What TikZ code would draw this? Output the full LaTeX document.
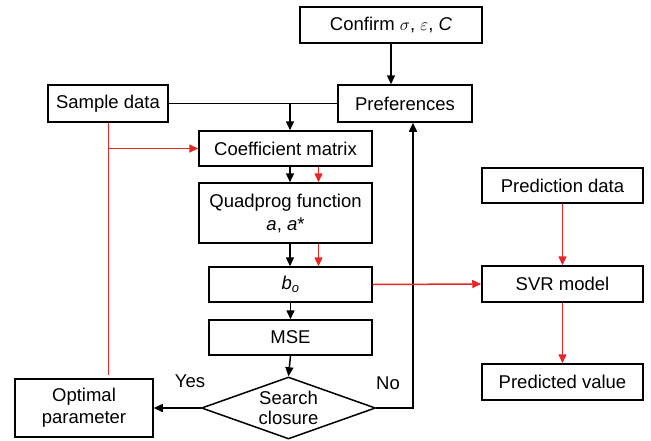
\documentclass[tikz,border=0pt]{standalone}
\usepackage{fontspec}
\setmainfont{Liberation Sans}
\usetikzlibrary{shapes.geometric,arrows.meta}
\definecolor{flowred}{RGB}{232,38,38}
\begin{document}
\begin{tikzpicture}[x=1pt,y=-1pt,
    font=\fontsize{18.5}{22}\selectfont,
    box/.style={draw,line width=1.5pt,inner sep=0pt,align=center},
    blk/.style={line width=1.5pt,-{Triangle[length=9pt,width=8pt]}},
    redarr/.style={flowred,line width=1.5pt,-{Triangle[length=9pt,width=8pt]}}]
  \useasboundingbox (0,0) rectangle (651,440);
  % left column
  \node[box,minimum width=182pt,minimum height=36pt] (confirm) at (391,25) {Confirm $\sigma$, $\varepsilon$, \textit{C}};
  \node[box,minimum width=134pt,minimum height=37pt] (pref) at (405,103.5) {Preferences};
  \node[box,minimum width=120pt,minimum height=37pt] (sample) at (108,103.5) {Sample data};
  \node[box,minimum width=173pt,minimum height=35pt] (coef) at (285.5,148.5) {Coefficient matrix};
  \node[box,minimum width=173pt,minimum height=60pt] (quad) at (285.5,213) {Quadprog function\\[1pt]\textit{a}, \textit{a}*};
  \node[box,minimum width=163pt,minimum height=35pt] (bo) at (290.5,284.5) {\textit{b}\textsubscript{\textit{o}}};
  \node[box,minimum width=163pt,minimum height=35pt] (mse) at (290.5,337.5) {MSE};
  \node[draw,line width=1.5pt,diamond,inner sep=0pt,minimum width=174pt,minimum height=62pt,
        label={[align=center,font=\fontsize{18.5}{20}\selectfont]center:Search\\closure}] (srch) at (288.5,408) {};
  \node[box,minimum width=138pt,minimum height=58pt] (opt) at (84,408) {Optimal\\parameter};
  % right column
  \node[box,minimum width=161pt,minimum height=35pt] (pred) at (562.5,185.5) {Prediction data};
  \node[box,minimum width=161pt,minimum height=36pt] (svr) at (562.5,284) {SVR model};
  \node[box,minimum width=161pt,minimum height=36pt] (val) at (562.5,382) {Predicted value};
  % labels
  \node (yes) at (190,381) {Yes};
  \node (no) at (388,383) {No};
  % helpers
  \coordinate (j) at (290,103.5);
  \coordinate (rc) at (318.5,0);
  \coordinate (br) at (108,148.5);
  \coordinate (back) at (413,408);
  % black flow
  \draw[blk] (confirm.south) -- (confirm.south |- pref.north);
  \draw[line width=1.5pt] (sample.east) -- (pref.west);
  \draw[blk] (j) -- (j |- coef.north);
  \draw[blk] (j |- coef.south) -- (j |- quad.north);
  \draw[blk] (j |- quad.south) -- (j |- bo.north);
  \draw[blk] (bo.south) -- (mse.north);
  \draw[blk] (mse.south) -- (srch.north);
  \draw[blk] (srch.west) -- (opt.east);
  \draw[blk] (srch.east) -- (back) -- (back |- pref.south);
  % red flow
  \draw[flowred,line width=1pt,shorten >=3pt] (sample.south) -- (sample.south |- opt.north);
  \draw[redarr] (br) -- (coef.west);
  \draw[redarr] (rc |- coef.south) -- (rc |- quad.north);
  \draw[redarr] (rc |- quad.south) -- (rc |- bo.north);
  \draw[redarr] (bo.east) -- (svr.west);
  \draw[redarr] (pred.south) -- (svr.north);
  \draw[redarr] (svr.south) -- (val.north);
\end{tikzpicture}
\end{document}
